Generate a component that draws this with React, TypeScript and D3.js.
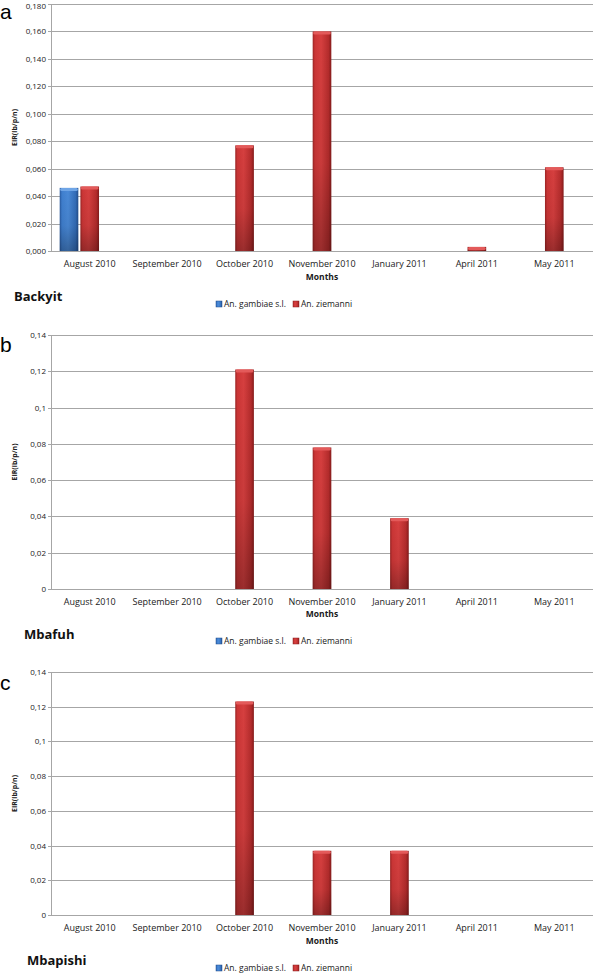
import React from "react";
import * as d3 from "d3";

const months = ["August 2010", "September 2010", "October 2010", "November 2010", "January 2011", "April 2011", "May 2011"];
const seriesNames = ["An. gambiae s.l.", "An. ziemanni"];

const backyitGambiae = [0.046, 0, 0, 0, 0, 0, 0];
const backyitZiemanni = [0.047, 0, 0.077, 0.160, 0, 0.003, 0.061];
const mbafuhGambiae = [0, 0, 0, 0, 0, 0, 0];
const mbafuhZiemanni = [0, 0, 0.121, 0.078, 0.039, 0, 0];
const mbapishiGambiae = [0, 0, 0, 0, 0, 0, 0];
const mbapishiZiemanni = [0, 0, 0.123, 0.037, 0.037, 0, 0];

const ticksA = [0, 0.02, 0.04, 0.06, 0.08, 0.1, 0.12, 0.14, 0.16, 0.18];
const ticksBC = [0, 0.02, 0.04, 0.06, 0.08, 0.1, 0.12, 0.14];

const fmtFixed = (v: number) => v.toFixed(3).replace(".", ",");
const fmtTrim = (v: number) => (v === 0 ? "0" : String(+v.toFixed(2)).replace(".", ","));

const panels = [
  { letter: "a", letterY: 19, site: "Backyit", siteX: 14, top: 4, bottom: 251, ticks: ticksA, fmt: fmtFixed, g: backyitGambiae, z: backyitZiemanni, xlab: 267, months: 280, siteY: 301, legendY: 307 },
  { letter: "b", letterY: 352, site: "Mbafuh", siteX: 24, top: 335, bottom: 589, ticks: ticksBC, fmt: fmtTrim, g: mbafuhGambiae, z: mbafuhZiemanni, xlab: 605, months: 617, siteY: 639, legendY: 644 },
  { letter: "c", letterY: 690, site: "Mbapishi", siteX: 27, top: 672, bottom: 915, ticks: ticksBC, fmt: fmtTrim, g: mbapishiGambiae, z: mbapishiZiemanni, xlab: 931, months: 944, siteY: 965, legendY: 971 },
];

const LEFT = 51;
const RIGHT = 593;
const FONT = "'Open Sans', 'Noto Sans', sans-serif";

const x = d3.scaleBand<string>().domain(months).range([LEFT, RIGHT]).padding(0);
const inner = d3
  .scaleBand<string>()
  .domain(["g", "z", "_"])
  .range([8.7, x.bandwidth() - 8.7])
  .paddingInner(0.1)
  .paddingOuter(0);

function Bar({ xPos, y0, y1, w, kind }: { xPos: number; y0: number; y1: number; w: number; kind: string }) {
  const h = y0 - y1;
  if (h <= 0.2) return null;
  const grad = kind === "g" ? "url(#gBlue)" : "url(#gRed)";
  const cap = kind === "g" ? "#6fa5e6" : "#e35a5a";
  return (
    <g>
      <rect x={xPos} y={y1} width={w} height={h} fill={grad} />
      <rect x={xPos} y={y1} width={w} height={h} fill="url(#shadeV)" />
      <rect x={xPos + 0.5} y={y1} width={w - 1} height={Math.min(3, h)} rx={1.5} fill={cap} />
    </g>
  );
}

export default function App() {
  return (
    <svg width={600} height={974} style={{ display: "block", position: "absolute", left: 0, top: 0, background: "#fff" }} fontFamily={FONT}>
      <defs>
        <linearGradient id="gRed" x1="0" x2="1" y1="0" y2="0">
          <stop offset="0" stopColor="#9c2424" />
          <stop offset="0.12" stopColor="#cc3636" />
          <stop offset="0.45" stopColor="#d63f3f" />
          <stop offset="0.85" stopColor="#b52c2c" />
          <stop offset="1" stopColor="#861b1b" />
        </linearGradient>
        <linearGradient id="gBlue" x1="0" x2="1" y1="0" y2="0">
          <stop offset="0" stopColor="#27589e" />
          <stop offset="0.12" stopColor="#3f7fcf" />
          <stop offset="0.45" stopColor="#4a8ad8" />
          <stop offset="0.85" stopColor="#336db8" />
          <stop offset="1" stopColor="#224e8c" />
        </linearGradient>
        <linearGradient id="shadeV" x1="0" x2="0" y1="0" y2="1">
          <stop offset="0" stopColor="#000" stopOpacity="0" />
          <stop offset="0.6" stopColor="#000" stopOpacity="0.06" />
          <stop offset="1" stopColor="#000" stopOpacity="0.28" />
        </linearGradient>
      </defs>
      {panels.map((p) => {
        const y = d3.scaleLinear().domain([0, p.ticks[p.ticks.length - 1]]).range([p.bottom, p.top]);
        return (
          <g key={p.letter}>
            <text x={0} y={p.letterY} fontSize={21} fontFamily="'Liberation Sans', Arial, sans-serif" fill="#000">{p.letter}</text>
            {p.ticks.map((t) => (
              <g key={t}>
                <line x1={LEFT - 3} x2={RIGHT} y1={Math.round(y(t)) + 0.5} y2={Math.round(y(t)) + 0.5} stroke="#a6a6a6" strokeWidth={1} />
                <text x={LEFT - 5} y={Math.max(y(t) + 3, 9)} fontSize={8} textAnchor="end" fill="#222">{p.fmt(t)}</text>
              </g>
            ))}
            <line x1={LEFT + 0.5} x2={LEFT + 0.5} y1={p.top} y2={p.bottom} stroke="#a6a6a6" />
            <text transform={`translate(17,${(p.top + p.bottom) / 2}) rotate(-90)`} fontSize={7} fontWeight="bold" textAnchor="middle" fill="#222">EIR(ib/p/n)</text>
            {months.map((m, i) => {
              const bx = x(m)!;
              return (
                <g key={m}>
                  <Bar xPos={bx + inner("g")!} y0={y(0)} y1={y(p.g[i])} w={inner.bandwidth()} kind="g" />
                  <Bar xPos={bx + inner("z")!} y0={y(0)} y1={y(p.z[i])} w={inner.bandwidth()} kind="z" />
                  <text x={bx + x.bandwidth() / 2} y={p.xlab} fontSize={9} textAnchor="middle" fill="#1a1a1a">{m}</text>
                </g>
              );
            })}
            <text x={(LEFT + RIGHT) / 2} y={p.months} fontSize={8.5} fontWeight="bold" textAnchor="middle" fill="#1a1a1a">Months</text>
            <text x={p.siteX} y={p.siteY} fontSize={13} fontWeight="bold" fill="#111">{p.site}</text>
            <g>
              <rect x={216} y={p.legendY - 6} width={6} height={6} fill="url(#gBlue)" stroke="#224e8c" strokeWidth={0.5} />
              <text x={224} y={p.legendY} fontSize={8.5} fill="#1a1a1a">{seriesNames[0]}</text>
              <rect x={293} y={p.legendY - 6} width={6} height={6} fill="url(#gRed)" stroke="#8a1c1c" strokeWidth={0.5} />
              <text x={301} y={p.legendY} fontSize={8.5} fill="#1a1a1a">{seriesNames[1]}</text>
            </g>
          </g>
        );
      })}
    </svg>
  );
}
